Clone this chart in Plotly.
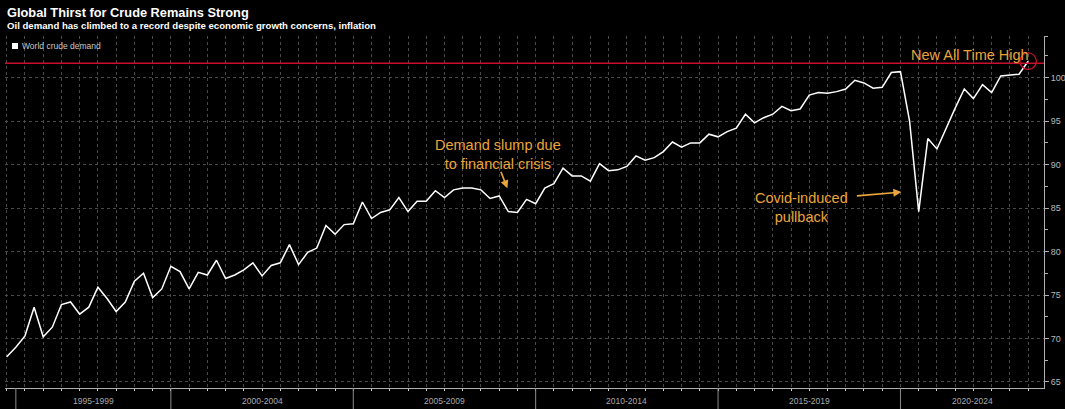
import pandas as pd
import plotly.graph_objects as go

# ---------------- data ----------------
start_quarter = "1995Q2"
demand = [
    67.9, 69.0, 70.3, 73.6, 70.2, 71.3, 73.9, 74.2, 72.8, 73.6,
    75.9, 74.6, 73.1, 74.2, 76.6, 77.5, 74.7, 75.7, 78.3, 77.7,
    75.7, 77.6, 77.3, 79.0, 76.9, 77.3, 77.9, 78.7, 77.2, 78.4,
    78.7, 80.8, 78.5, 79.9, 80.4, 83.0, 82.0, 83.1, 83.2, 85.7,
    83.8, 84.5, 84.8, 86.2, 84.6, 85.8, 85.8, 87.0, 86.2, 87.1,
    87.3, 87.3, 87.1, 86.1, 86.4, 84.6, 84.5, 86.0, 85.5, 87.3,
    87.8, 89.6, 88.7, 88.7, 88.1, 90.1, 89.3, 89.4, 89.8, 91.0,
    90.5, 90.8, 91.5, 92.6, 92.0, 92.5, 92.5, 93.5, 93.2, 93.8,
    94.2, 95.8, 94.8, 95.4, 95.8, 96.7, 96.2, 96.4, 98.0, 98.3,
    98.2, 98.4, 98.7, 99.7, 99.4, 98.8, 98.9, 100.6, 100.7, 95.0,
    84.6, 93.0, 91.8, 94.2, 96.5, 98.7, 97.6, 99.2, 98.3, 100.2,
    100.3, 100.4, 101.9,
]
quarters = [str(p) for p in pd.period_range(start_quarter, periods=len(demand), freq="Q")]
group_labels = ["1995-1999", "2000-2004", "2005-2009", "2010-2014", "2015-2019", "2020-2024"]
y_ticks = [65, 70, 75, 80, 85, 90, 95, 100]
record_level = 101.66

title = "Global Thirst for Crude Remains Strong"
subtitle = "Oil demand has climbed to a record despite economic growth concerns, inflation"
series_name = "World crude demand"

# ---------------- styling ----------------
W, H = 1065, 409
M_L, M_R, M_T, M_B = 5, 21, 36, 21
PW, PH = W - M_L - M_R, H - M_T - M_B
ORANGE = "#eba53c"
RED = "#c8102e"
GRID = "#4a4a4a"
AXIS = "#b0b0b0"
NARROW = "Liberation Sans Narrow, Liberation Sans, Arial"
ANN_FONT = dict(family="Liberation Sans", size=14.5, color=ORANGE)


def px_x(px):
    return (px - M_L) / PW


def px_y(py):
    return (H - M_B - py) / PH


n = len(demand)
x_range = [-0.19, n + 0.74]
y_range = [64.3, 104.8]

fig = go.Figure()
fig.add_trace(go.Scatter(
    x=quarters, y=demand, mode="lines", name=series_name,
    line=dict(color="#ffffff", width=1.5),
    showlegend=False, hoverinfo="x+y",
))

# group separators & labels on the bottom band
years = [int(q[:4]) for q in quarters]
group_first = {}
for i, yv in enumerate(years):
    g = (yv - 1995) // 5
    group_first.setdefault(g, i)
seps = [1.0]  # left bracket
for g in sorted(group_first):
    if g > 0:
        seps.append(group_first[g] - 1.0)
seps.append(x_range[1])

shapes = []
for s in seps[:-1]:
    shapes.append(dict(type="line", xref="x", yref="paper", x0=s, x1=s,
                       y0=0, y1=px_y(H), line=dict(color="#8a8a8a", width=1)))
annotations = []
for g, lab in enumerate(group_labels):
    c = (seps[g] + seps[g + 1]) / 2
    annotations.append(dict(x=c, y=px_y(401), xref="x", yref="paper", text=lab,
                            showarrow=False, yanchor="middle",
                            font=dict(family=NARROW, size=8.5, color="#a8a8a8")))

# record line and circle
shapes.append(dict(type="line", xref="paper", yref="y", x0=0, x1=1,
                   y0=record_level, y1=record_level, line=dict(color=RED, width=1.6)))
shapes.append(dict(type="circle", xref="x", yref="y",
                   x0=n - 1 - 0.9, x1=n - 1 + 0.9,
                   y0=demand[-1] - 0.95, y1=demand[-1] + 0.95,
                   line=dict(color=RED, width=1.2)))

# legend (white square + label)
shapes.append(dict(type="rect", xref="paper", yref="paper",
                   x0=px_x(12), x1=px_x(18), y0=px_y(49), y1=px_y(43),
                   fillcolor="#ffffff", line=dict(width=0)))
annotations.append(dict(x=px_x(20), y=px_y(46), xref="paper", yref="paper",
                        text=series_name, showarrow=False, xanchor="left", yanchor="middle",
                        font=dict(family=NARROW, size=8.5, color="#c8c8c8")))

# text annotations
annotations += [
    dict(x=105.6, y=102.6, xref="x", yref="y", text="New All Time High", showarrow=False,
         font=ANN_FONT),
    dict(x=53.9, y=91.17, xref="x", yref="y", text="Demand slump due<br>to financial crisis",
         showarrow=False, font=ANN_FONT),
    dict(x=54.9, y=87.27, xref="x", yref="y", text="", showarrow=True, ax=-7, ay=-18,
         arrowhead=2, arrowsize=1, arrowwidth=1.6, arrowcolor=ORANGE),
    dict(x=87.1, y=85.06, xref="x", yref="y", text="Covid-induced<br>pullback",
         showarrow=False, font=ANN_FONT),
    dict(x=98.1, y=86.85, xref="x", yref="y", text="", showarrow=True, ax=-46, ay=4,
         arrowhead=2, arrowsize=1, arrowwidth=1.6, arrowcolor=ORANGE),
    dict(x=px_x(5), y=px_y(13), xref="paper", yref="paper", text="<b>" + title + "</b>",
         showarrow=False, xanchor="left", yanchor="middle",
         font=dict(family="Liberation Sans", size=12.8, color="#ffffff")),
    dict(x=px_x(5), y=px_y(25.5), xref="paper", yref="paper", text="<b>" + subtitle + "</b>",
         showarrow=False, xanchor="left", yanchor="middle",
         font=dict(family="Liberation Sans", size=9.6, color="#ffffff")),
]

fig.update_layout(
    width=W, height=H,
    margin=dict(l=M_L, r=M_R, t=M_T, b=M_B, autoexpand=False),
    paper_bgcolor="#000000", plot_bgcolor="#000000",
    showlegend=False,
    shapes=shapes, annotations=annotations,
    xaxis=dict(type="category", range=x_range, showgrid=True, gridcolor=GRID,
               griddash="dot", gridwidth=1, showticklabels=False, automargin=False,
               ticks="outside", ticklen=2, tickcolor="#d0d0d0",
               showline=True, linecolor=AXIS, linewidth=1, zeroline=False),
    yaxis=dict(side="right", range=y_range, tickvals=y_ticks, automargin=False,
               showgrid=True, gridcolor=GRID, griddash="dot", gridwidth=1,
               ticks="outside", ticklen=4, tickcolor=AXIS,
               minor=dict(tickvals=[v + 2.5 for v in y_ticks] + [y_range[1]], ticks="outside",
                          ticklen=3, tickcolor=AXIS, showgrid=False),
               tickfont=dict(family=NARROW, size=9, color="#b8b8b8"),
               showline=True, linecolor=AXIS, linewidth=1, zeroline=False),
)

fig.write_html(
    "out.html",
    config={"displayModeBar": False},
    post_script="document.body.style.margin='0';document.body.style.padding='0';"
                "document.body.style.overflow='hidden';",
)
